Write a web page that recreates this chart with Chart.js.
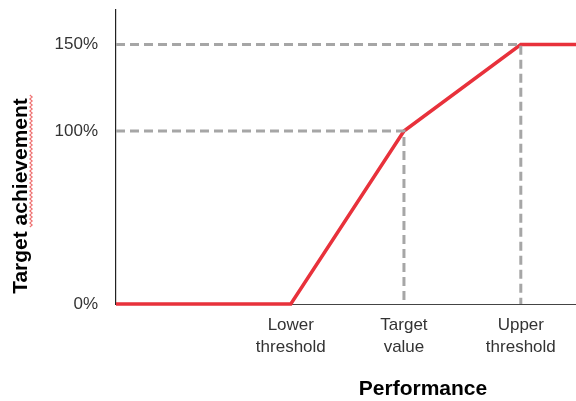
<!DOCTYPE html>
<html>
<head>
<meta charset="utf-8">
<script src="https://cdn.jsdelivr.net/npm/chart.js@4/dist/chart.umd.min.js"></script>
<style>
  html, body { margin: 0; padding: 0; background: #fff; }
  #wrap { width: 576px; height: 401px; position: relative; }
</style>
</head>
<body>
<div id="wrap"><canvas id="chart"></canvas></div>
<script>
// Performance positions (arbitrary units) and the resulting target achievement (%)
const performance = [0, 3.8, 6.26, 8.8, 10];
const achievement = [0, 0, 100, 150, 150];

// Reference points marked on the axes
const xTickValues = [3.8, 6.26, 8.8];
const xTickLabels = [['Lower', 'threshold'], ['Target', 'value'], ['Upper', 'threshold']];
const yTickValues = [0, 100, 150];

const xTitle = 'Performance';
const yTitle = 'Target achievement';

const RED = '#e8313b';
const GREY = '#a6a6a6';
const TEXT = '#333333';
const FONT = "'Liberation Sans', Arial, sans-serif";

const pts = performance.map((x, i) => ({ x, y: achievement[i] }));
const target = pts[2];
const upper = pts[3];

const dash = { borderColor: GREY, borderWidth: 3, borderDash: [9, 5], pointRadius: 0, fill: false, clip: false };

// Axis titles drawn at fixed spots, plus the wavy proofing mark under the y title
const titlesPlugin = {
  id: 'titles',
  afterDraw(chart) {
    const ctx = chart.ctx;
    ctx.save();
    ctx.fillStyle = '#000';
    ctx.font = "bold 21px " + FONT;
    ctx.textAlign = 'center';
    ctx.textBaseline = 'middle';
    ctx.fillText(xTitle, 423, 389);
    ctx.translate(21, 196);
    ctx.rotate(-Math.PI / 2);
    ctx.fillText(yTitle, 0, 0);
    ctx.restore();

    ctx.save();
    ctx.strokeStyle = 'rgba(235,80,80,0.8)';
    ctx.lineWidth = 1.1;
    ctx.beginPath();
    for (let y = 95, k = 0; y <= 227; y += 2, k++) {
      const x = 31 + (k % 2 ? 1.2 : -1.2);
      if (k === 0) ctx.moveTo(x, y); else ctx.lineTo(x, y);
    }
    ctx.stroke();
    ctx.restore();
  }
};

// Keep the plot area edges fixed, without label overhang padding
function noOverhang(scale) {
  scale.paddingTop = 0;
  scale.paddingBottom = 0;
  scale.paddingLeft = 0;
  scale.paddingRight = 0;
}

new Chart(document.getElementById('chart'), {
  type: 'line',
  data: {
    datasets: [
      Object.assign({ data: [{ x: 0, y: target.y }, target, { x: target.x, y: 0 }] }, dash),
      Object.assign({ data: [{ x: 0, y: upper.y }, upper, { x: upper.x, y: 0 }] }, dash),
      { data: pts, borderColor: RED, borderWidth: 3.5, pointRadius: 0, fill: false, tension: 0, clip: false, borderJoinStyle: 'miter' }
    ]
  },
  options: {
    responsive: true,
    maintainAspectRatio: false,
    animation: false,
    layout: { padding: { left: 0, right: 0, top: 10, bottom: 0 } },
    plugins: { legend: { display: false }, tooltip: { enabled: false } },
    scales: {
      x: {
        type: 'linear',
        min: 0,
        max: 10,
        afterBuildTicks(scale) { scale.ticks = xTickValues.map(v => ({ value: v })); },
        afterFit(scale) { scale.height = 97; noOverhang(scale); },
        grid: { display: false, drawTicks: false },
        border: { display: true, color: '#444', width: 1 },
        ticks: {
          autoSkip: false,
          maxRotation: 0,
          padding: 10,
          color: TEXT,
          font: { family: FONT, size: 17, lineHeight: 1.3 },
          callback: (v, i) => xTickLabels[i]
        }
      },
      y: {
        type: 'linear',
        min: 0,
        max: 170,
        afterBuildTicks(scale) { scale.ticks = yTickValues.map(v => ({ value: v })); },
        afterFit(scale) { scale.width = 116; noOverhang(scale); },
        grid: { display: false, drawTicks: false },
        border: { display: true, color: '#222', width: 1.2 },
        ticks: {
          padding: 18,
          color: TEXT,
          font: { family: FONT, size: 17 },
          callback: v => v + '%'
        }
      }
    }
  },
  plugins: [titlesPlugin]
});
</script>
</body>
</html>
